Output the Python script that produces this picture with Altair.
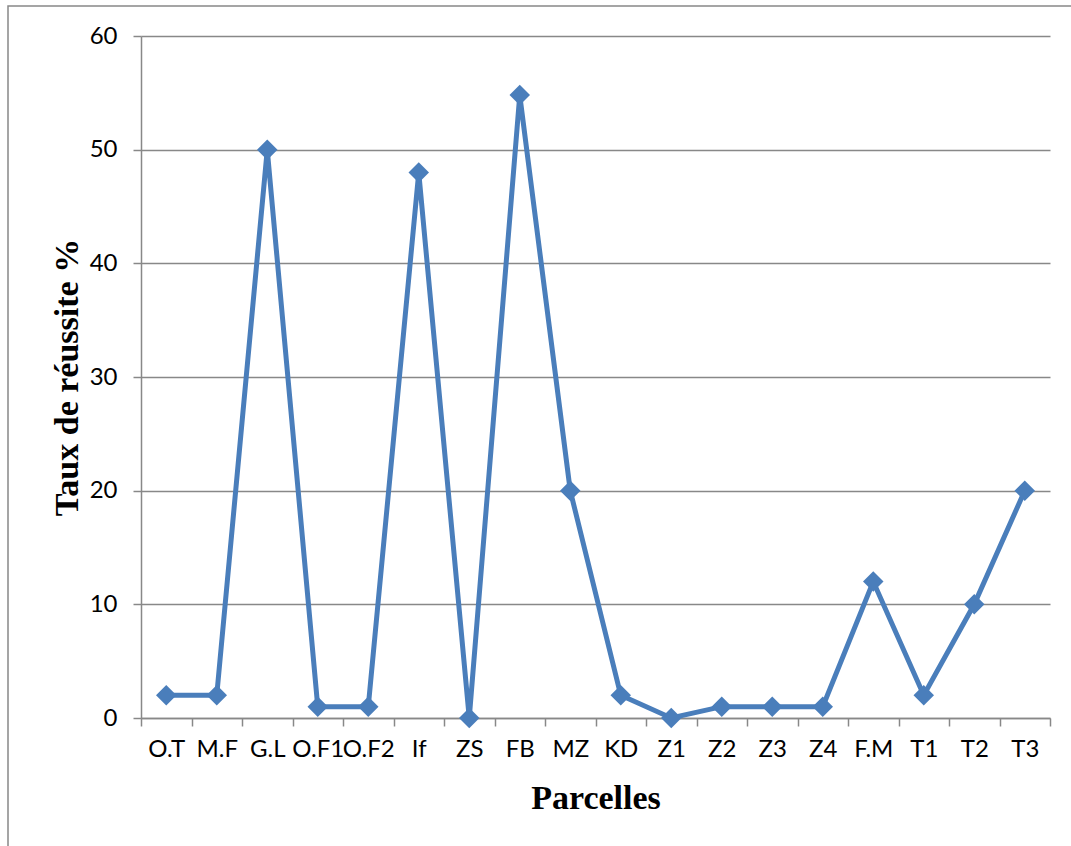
import altair as alt
import pandas as pd

parcelles = ["O.T", "M.F", "G.L", "O.F1", "O.F2", "If", "ZS", "FB", "MZ", "KD",
             "Z1", "Z2", "Z3", "Z4", "F.M", "T1", "T2", "T3"]
taux = [2, 2, 50, 1, 1, 48, 0, 54.8, 20, 2, 0, 1, 1, 1, 12, 2, 10, 20]
y_ticks = [0, 10, 20, 30, 40, 50, 60]

df = pd.DataFrame({"Parcelle": parcelles, "Taux": taux})

W, H = 909, 682
LEFT, TOP = 141, 36

x_enc = alt.X(
    "Parcelle:N",
    sort=parcelles,
    scale=alt.Scale(type="band", paddingInner=0, paddingOuter=0),
    axis=alt.Axis(
        title="Parcelles",
        tickBand="extent",
        labelAngle=0,
        labelOverlap=False,
        labelFont="Lato",
        labelFontSize=24,
        labelColor="black",
        labelPadding=11,
        tickSize=8,
        tickColor="#888888",
        tickWidth=1.5,
        domainColor="#888888",
        domainWidth=1.5,
        titleFont="Liberation Serif",
        titleFontSize=34,
        titleFontWeight="bold",
        titleColor="black",
        titleBaseline="alphabetic",
        titleAlign="center",
        titleX=W / 2,
        titleY=90,
    ),
)

y_enc = alt.Y(
    "Taux:Q",
    scale=alt.Scale(domain=[0, 60], nice=False, zero=True),
    axis=alt.Axis(
        title="Taux de réussite %",
        values=y_ticks,
        grid=True,
        gridColor="#888888",
        gridWidth=1.5,
        labelFont="Lato",
        labelFontSize=24,
        labelColor="black",
        labelPadding=16,
        tickSize=8,
        tickColor="#888888",
        tickWidth=1.5,
        domainColor="#888888",
        domainWidth=1.5,
        titleFont="Liberation Serif",
        titleFontSize=34,
        titleFontWeight="bold",
        titleColor="black",
        titleAngle=270,
        titleBaseline="alphabetic",
        titleAlign="center",
        titleX=-64,
        titleY=H / 2,
    ),
)

line = alt.Chart(df).mark_line(
    color="#4A7EBB", strokeWidth=5,
    point=alt.OverlayMarkDef(shape="diamond", size=420, filled=True,
                             color="#4A7EBB", opacity=1),
).encode(x=x_enc, y=y_enc)

border = alt.Chart(alt.Data(values=[{"a": 1}])).mark_rect(
    fill="transparent", stroke="#888888", strokeWidth=1.5
).encode(
    x=alt.value(8 - LEFT), y=alt.value(6 - TOP),
    x2=alt.value(1120 - LEFT), y2=alt.value(900 - TOP),
)

chart = alt.layer(border, line).properties(
    width=W, height=H,
    autosize=alt.AutoSizeParams(type="none"),
    padding={"left": LEFT, "top": TOP, "right": 1071 - LEFT - W, "bottom": 846 - TOP - H},
    background="white",
).configure_view(strokeWidth=0)

chart.save("out.html", embed_options={"renderer": "svg", "actions": False})
